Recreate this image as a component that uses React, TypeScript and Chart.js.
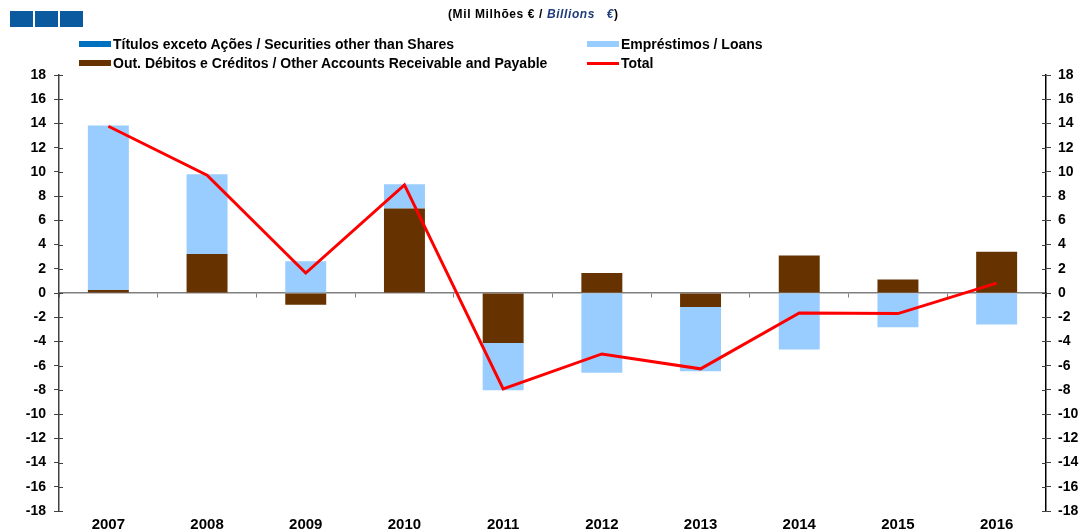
import React, { useEffect, useRef } from 'react';
import { Chart, registerables } from 'chart.js';

Chart.register(...registerables);

const years = ['2007', '2008', '2009', '2010', '2011', '2012', '2013', '2014', '2015', '2016'];
const securities = [0, 0, 0, 0, 0, 0, 0, 0, 0, 0];
const loans = [13.58, 6.59, 2.62, 2.01, -3.9, -6.59, -5.31, -4.67, -2.83, -2.61];
const otherAccounts = [0.25, 3.22, -0.96, 6.97, -4.12, 1.65, -1.15, 3.1, 1.12, 3.41];
const total = [13.77, 9.72, 1.65, 8.93, -7.91, -5.03, -6.26, -1.65, -1.7, 0.82];

const yMin = -18;
const yMax = 18;
const yStep = 2;

const legendItems = [
  { label: 'Títulos exceto Ações / Securities other than Shares', color: '#0070c0', kind: 'box' },
  { label: 'Empréstimos / Loans', color: '#99ccff', kind: 'box' },
  { label: 'Out. Débitos e Créditos / Other Accounts Receivable and Payable', color: '#663300', kind: 'box' },
  { label: 'Total', color: '#ff0000', kind: 'line' },
];

const FONT = "'Liberation Sans', Arial, sans-serif";

// draws the inner half of the y-axis tick marks (ticks cross the axis line)
const innerTicks = {
  id: 'innerTicks',
  afterDraw(chart: any) {
    const ctx = chart.ctx;
    ['y', 'y2'].forEach((id) => {
      const s = chart.scales[id];
      if (!s) return;
      const isLeft = id === 'y';
      const x0 = isLeft ? s.right : s.left;
      const dir = isLeft ? 1 : -1;
      ctx.save();
      ctx.strokeStyle = '#404040';
      ctx.lineWidth = 1;
      s.ticks.forEach((t: any) => {
        const y = Math.round(s.getPixelForValue(t.value)) + 0.5;
        ctx.beginPath();
        ctx.moveTo(x0, y);
        ctx.lineTo(x0 + dir * 4, y);
        ctx.stroke();
      });
      ctx.restore();
    });
  },
};

export default function App() {
  const ref = useRef<HTMLCanvasElement | null>(null);

  useEffect(() => {
    if (!ref.current) return;
    const tickFont = { family: FONT, size: 14, weight: 'bold' as const };
    const chart = new Chart(ref.current, {
      type: 'bar',
      data: {
        labels: years,
        datasets: [
          {
            type: 'line',
            label: 'Total',
            data: total,
            borderColor: '#ff0000',
            backgroundColor: '#ff0000',
            borderWidth: 3,
            pointRadius: 0,
            tension: 0,
            xAxisID: 'x',
            yAxisID: 'y',
            stack: 'line',
          } as any,
          {
            label: 'Out. Débitos e Créditos / Other Accounts Receivable and Payable',
            data: otherAccounts,
            backgroundColor: '#663300',
            xAxisID: 'x',
            yAxisID: 'y',
            stack: 'bars',
          },
          {
            label: 'Empréstimos / Loans',
            data: loans,
            backgroundColor: '#99ccff',
            xAxisID: 'x',
            yAxisID: 'y',
            stack: 'bars',
          },
          {
            label: 'Títulos exceto Ações / Securities other than Shares',
            data: securities,
            backgroundColor: '#0070c0',
            xAxisID: 'x',
            yAxisID: 'y',
            stack: 'bars',
          },
        ],
      },
      options: {
        animation: false,
        responsive: true,
        maintainAspectRatio: false,
        layout: { padding: { top: 75, bottom: 0, left: 0, right: 0 } },
        datasets: {
          bar: { barPercentage: 1, categoryPercentage: 0.415 },
        },
        plugins: {
          legend: { display: false },
          tooltip: { enabled: false },
          title: { display: false },
        },
        scales: {
          x: {
            type: 'category',
            position: 'bottom',
            stacked: true,
            offset: true,
            grid: { display: false, drawTicks: false },
            border: { display: false },
            ticks: { color: '#000', font: { family: FONT, size: 15, weight: 'bold' }, padding: 5, maxRotation: 0, autoSkip: false },
            afterFit: (s: any) => { s.height = 19; },
          },
          x2: {
            type: 'category',
            position: { y: 0 } as any,
            offset: true,
            grid: { display: true, offset: true, drawOnChartArea: false, drawTicks: true, tickLength: 4, color: '#808080', lineWidth: 1 },
            border: { display: true, color: '#808080', width: 1.5 },
            ticks: { display: false },
          },
          y: {
            type: 'linear',
            position: 'left',
            stacked: true,
            min: yMin,
            max: yMax,
            ticks: { stepSize: yStep, color: '#000', font: tickFont, padding: 8 },
            grid: { drawOnChartArea: false, drawTicks: true, tickLength: 5, color: '#404040', lineWidth: 1 },
            border: { display: true, color: '#404040', width: 1.5 },
            afterFit: (s: any) => { s.width = 59; },
          },
          y2: {
            type: 'linear',
            position: 'right',
            min: yMin,
            max: yMax,
            ticks: { stepSize: yStep, color: '#000', font: tickFont, padding: 7 },
            grid: { drawOnChartArea: false, drawTicks: true, tickLength: 5, color: '#404040', lineWidth: 1 },
            border: { display: true, color: '#000', width: 1.5 },
            afterFit: (s: any) => { s.width = 39; },
          },
        },
      },
      plugins: [innerTicks],
    });
    return () => chart.destroy();
  }, []);

  const squares = [0, 1, 2];

  return (
    <div style={{ position: 'fixed', left: 0, top: 0, width: 1085, height: 530, background: '#fff', fontFamily: FONT }}>
      <canvas ref={ref} style={{ position: 'absolute', left: 0, top: 0 }} />
      <div style={{ position: 'absolute', left: 10, top: 11, display: 'flex', gap: 2 }}>
        {squares.map((i) => (
          <div key={i} style={{ width: 23, height: 16, background: '#0b5aa0' }} />
        ))}
      </div>
      <div style={{ position: 'absolute', left: 448, top: 7, fontSize: 12, fontWeight: 'bold', color: '#000', whiteSpace: 'nowrap', letterSpacing: 0.6 }}>
        (Mil Milhões € / <span style={{ fontStyle: 'italic', color: '#1f3d7a' }}>Billions&nbsp;&nbsp; €</span>)
      </div>
      {legendItems.map((it, i) => {
        const col = i % 2;
        const row = Math.floor(i / 2);
        const left = col === 0 ? 79 : 587;
        const top = row === 0 ? 36 : 55;
        return (
          <div key={i} style={{ position: 'absolute', left, top, height: 16, display: 'flex', alignItems: 'center', whiteSpace: 'nowrap', fontSize: 14, fontWeight: 'bold', color: '#000' }}>
            {it.kind === 'box' ? (
              <div style={{ width: 32, height: 6, background: it.color, marginRight: 2 }} />
            ) : (
              <div style={{ width: 32, height: 3, background: it.color, marginRight: 2 }} />
            )}
            <span>{it.label}</span>
          </div>
        );
      })}
    </div>
  );
}
